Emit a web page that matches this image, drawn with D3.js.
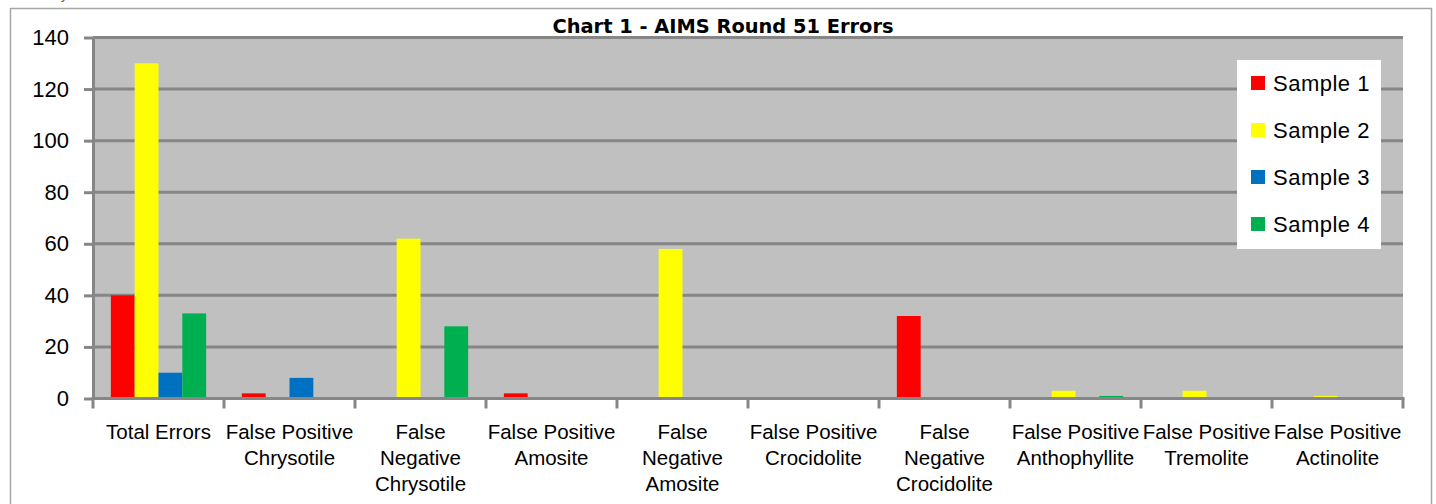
<!DOCTYPE html>
<html>
<head>
<meta charset="utf-8">
<script src="https://cdn.jsdelivr.net/npm/d3@7"></script>
<style>
  body { margin: 0; background: #fff; }
  text { font-family: "Liberation Sans", Arial, sans-serif; fill: #000; }
</style>
</head>
<body>
<script>
// chart values
var categories = ["Total Errors", "False Positive Chrysotile", "False Negative Chrysotile",
  "False Positive Amosite", "False Negative Amosite", "False Positive Crocidolite",
  "False Negative Crocidolite", "False Positive Anthophyllite", "False Positive Tremolite",
  "False Positive Actinolite"];
var tickLabels = [["Total Errors"], ["False Positive", "Chrysotile"], ["False", "Negative", "Chrysotile"],
  ["False Positive", "Amosite"], ["False", "Negative", "Amosite"], ["False Positive", "Crocidolite"],
  ["False", "Negative", "Crocidolite"], ["False Positive", "Anthophyllite"], ["False Positive", "Tremolite"],
  ["False Positive", "Actinolite"]];
var seriesNames = ["Sample 1", "Sample 2", "Sample 3", "Sample 4"];
var sample1 = [40, 2, 0, 2, 0, 0, 32, 0, 0, 0];
var sample2 = [130, 0, 62, 0, 58, 0, 0, 3, 3, 1];
var sample3 = [10, 8, 0, 0, 0, 0, 0, 0, 0, 0];
var sample4 = [33, 0, 28, 0, 0, 0, 0, 1, 0, 0];
var yTicks = [0, 20, 40, 60, 80, 100, 120, 140];
var colors = ["#ff0000", "#ffff00", "#0070c0", "#00b050"];

var series = [sample1, sample2, sample3, sample4];

var width = 1436, height = 504;
var plotLeft = 93, plotRight = 1403, plotTop = 37.5, plotBottom = 398.5;
var gridColor = "#868686";

var svg = d3.select("body")
            .append("svg")
            .attr("width", width)
            .attr("height", height)

// outer chart border
svg.append("rect")
   .attr("x", 10.5).attr("y", 8.5)
   .attr("width", 1421).attr("height", 530)
   .attr("fill", "#fff")
   .attr("stroke", "#a6a6a6")
   .attr("stroke-width", 1.5)

// stray red text cut at the top edge (only the descenders show)
svg.append("text")
   .attr("x", 8).attr("y", -1)
   .style("fill", "#a33")
   .style("font-size", "14px")
   .text("Summary")

var x0 = d3.scaleBand().domain(categories).range([plotLeft, plotRight]).padding(0);
var x1 = d3.scaleBand().domain(seriesNames).range([0, x0.bandwidth()]).paddingInner(0).paddingOuter(0.75);
var y = d3.scaleLinear().domain([0, 140]).range([plotBottom, plotTop]);

// plot area
svg.append("rect")
   .attr("x", plotLeft).attr("y", y(140) - 1.5)
   .attr("width", plotRight - plotLeft).attr("height", y(0) - y(140) + 1.5)
   .attr("fill", "#c0c0c0")

// gridlines
svg.append("g").selectAll("line")
   .data(yTicks.filter(function (d){ return d > 0 }))
   .enter().append("line")
     .attr("x1", plotLeft).attr("x2", plotRight)
     .attr("y1", function (d){ return y(d) })
     .attr("y2", function (d){ return y(d) })
     .attr("stroke", gridColor)
     .attr("stroke-width", 3)

// bars
var groups = svg.append("g").selectAll("g")
   .data(series)
   .enter().append("g")
     .attr("fill", function (d, i){ return colors[i] })

groups.selectAll("rect")
   .data(function (d, i){ return d.map(function (v, j){ return { cat: categories[j], s: seriesNames[i], v: v } }).filter(function (d){ return d.v > 0 }) })
   .enter().append("rect")
     .attr("x", function (d){ return x0(d.cat) + x1(d.s) })
     .attr("width", x1.bandwidth())
     .attr("y", function (d){ return y(d.v) })
     .attr("height", function (d){ return y(0) - y(d.v) })

// y axis
var yAxis = svg.append("g")
   .attr("transform", "translate(" + plotLeft + ",0)")
   .call(d3.axisLeft(y).tickValues(yTicks).tickSize(9).tickSizeOuter(0).tickPadding(15))
yAxis.selectAll("path, line").attr("stroke", gridColor).attr("stroke-width", 3)
yAxis.selectAll("text").style("font-size", "22px").attr("fill", "#000")
  .style("font-family", "'Liberation Sans', Arial, sans-serif")

// x axis line and category ticks
svg.append("line")
   .attr("x1", plotLeft - 1.5).attr("x2", plotRight + 1.5)
   .attr("y1", y(0)).attr("y2", y(0))
   .attr("stroke", gridColor).attr("stroke-width", 3)

var edges = categories.map(function (c){ return x0(c) }).concat([x0(categories[categories.length - 1]) + x0.bandwidth()]);
svg.append("g").selectAll("line")
   .data(edges)
   .enter().append("line")
     .attr("x1", function (d){ return d }).attr("x2", function (d){ return d })
     .attr("y1", y(0)).attr("y2", y(0) + 10)
     .attr("stroke", gridColor).attr("stroke-width", 3)

// category labels
var labels = svg.append("g").selectAll("text")
   .data(categories)
   .enter().append("text")
     .attr("text-anchor", "middle")
     .attr("y", 439)
     .style("font-size", "20.5px")

labels.selectAll("tspan")
   .data(function (d, i){ return tickLabels[i].map(function (t){ return { t: t, c: d } }) })
   .enter().append("tspan")
     .attr("x", function (d){ return x0(d.c) + x0.bandwidth() / 2 })
     .attr("dy", function (d, i){ return i === 0 ? 0 : 26 })
     .text(function (d){ return d.t })

// title
svg.append("text")
   .attr("x", 723).attr("y", 33)
   .attr("text-anchor", "middle")
   .style("font-family", "'DejaVu Sans', Verdana, sans-serif")
   .style("font-weight", "bold")
   .style("font-size", "19.4px")
   .text("Chart 1 - AIMS Round 51 Errors")

// legend
var legend = svg.append("g")
legend.append("rect")
   .attr("x", 1237).attr("y", 60)
   .attr("width", 144).attr("height", 189)
   .attr("fill", "#fff")

var items = legend.selectAll("g")
   .data(seriesNames)
   .enter().append("g")
     .attr("transform", function (d, i){ return "translate(1251," + (83 + i * 47) + ")" })

items.append("rect")
   .attr("x", 0).attr("y", -7)
   .attr("width", 14).attr("height", 14)
   .attr("fill", function (d, i){ return colors[i] })

items.append("text")
   .attr("x", 22).attr("dy", "0.36em")
   .style("font-size", "22px")
   .style("letter-spacing", "0.5px")
   .text(function (d){ return d })
</script>
</body>
</html>
